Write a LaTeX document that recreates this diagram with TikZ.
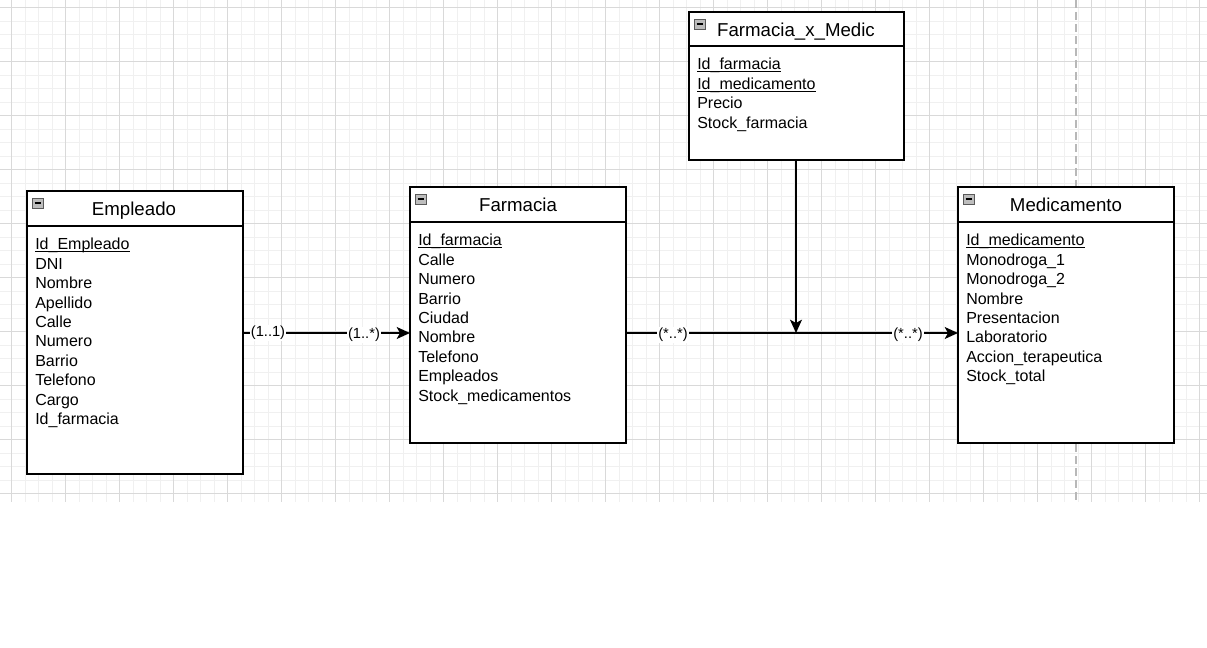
\documentclass[tikz,border=0pt]{standalone}
\usepackage{fontspec}
\setmainfont{Liberation Sans}
\usepackage{xcolor}
\usetikzlibrary{arrows.meta}
\definecolor{gridminor}{HTML}{F0F0F0}
\definecolor{gridmajor}{HTML}{D9D9D9}
\definecolor{iconfill}{HTML}{BDBDBD}
\tikzset{
    tabla/.style={draw, line width=1.1pt, fill=white, inner sep=0pt, outer sep=0pt, anchor=north west, minimum width=162pt},
    titulo/.style={anchor=base, inner sep=0pt, font=\fontsize{14pt}{16pt}\selectfont},
    campo/.style={anchor=base west, inner sep=0pt, font=\fontsize{12pt}{14pt}\selectfont},
    card/.style={fill=white, inner sep=0.8pt, font=\fontsize{11pt}{13pt}\selectfont},
    rel/.style={line width=1.1pt, -{Stealth[length=10pt, width=9pt, inset=2.5pt]}}
}
\newcommand{\icono}[1]{%
    \draw[fill=iconfill, draw=gray!70!black, line width=0.5pt] (#1) ++(5,7) rectangle ++(11,10);
    \draw[line width=1.1pt] (#1) ++(7.5,12) -- ++(6,0);}
\newcommand{\clave}[1]{\setbox0\hbox{#1}\rlap{\rule[-1.6pt]{\wd0}{0.7pt}}\box0}

\begin{document}
\begin{tikzpicture}[x=0.75pt, y=-0.75pt]
            \useasboundingbox (0,0) rectangle (1207,648);
            \begin{scope}
                \clip (0,0) rectangle (1207,502);
                \foreach \x in {-2,11.5,...,1210} \draw[gridminor, line width=0.75pt] (\x,0) -- (\x,502);
                \foreach \y in {-5.5,8,...,502} \draw[gridminor, line width=0.75pt] (0,\y) -- (1207,\y);
                \foreach \x in {11.5,65.5,...,1210} \draw[gridmajor, line width=0.75pt] (\x,0) -- (\x,502);
                \foreach \y in {8,62,...,502} \draw[gridmajor, line width=0.75pt] (0,\y) -- (1207,\y);
            \end{scope}
            \draw[gridmajor!85!black, line width=1pt, dash pattern=on 6pt off 3pt] (1076,0) -- (1076,502);

            \node[tabla, minimum height=212.25pt] (empleado) at (27,191) {};
            \node[tabla, minimum height=192pt] (farmacia) at (410,187) {};
            \node[tabla, minimum width=161.25pt, minimum height=111pt] (fxm) at (689,12) {};
            \node[tabla, minimum height=192pt] (medicamento) at (958,187) {};

            \draw[line width=1.1pt] (empleado.north west) ++(0,35) -- ++(216,0);
            \draw[line width=1.1pt] (farmacia.north west) ++(0,35) -- ++(216,0);
            \draw[line width=1.1pt] (fxm.north west) ++(0,34) -- ++(215,0);
            \draw[line width=1.1pt] (medicamento.north west) ++(0,35) -- ++(216,0);

            \icono{empleado.north west}
            \icono{farmacia.north west}
            \icono{fxm.north west}
            \icono{medicamento.north west}

            \node[titulo] (t-empleado) at (134,216) {Empleado};
            \node[titulo] (t-farmacia) at (518,212) {Farmacia};
            \node[titulo] (t-fxm) at (796,37) {Farmacia\_x\_Medic};
            \node[titulo] (t-medicamento) at (1066,212) {Medicamento};

            \foreach \c [count=\i] in {\clave{Id\_Empleado},DNI,Nombre,Apellido,Calle,Numero,Barrio,Telefono,Cargo,Id\_farmacia}
                \node[campo] (emp-\i) at (35,{250+19.4*(\i-1)}) {\c};
            \foreach \c [count=\i] in {\clave{Id\_farmacia},Calle,Numero,Barrio,Ciudad,Nombre,Telefono,Empleados,Stock\_medicamentos}
                \node[campo] (far-\i) at (418,{246+19.4*(\i-1)}) {\c};
            \foreach \c [count=\i] in {\clave{Id\_farmacia},\clave{Id\_medicamento},Precio,Stock\_farmacia}
                \node[campo] (fxm-\i) at (697,{70+19.4*(\i-1)}) {\c};
            \foreach \c [count=\i] in {\clave{Id\_medicamento},Monodroga\_1,Monodroga\_2,Nombre,Presentacion,Laboratorio,Accion\_terapeutica,Stock\_total}
                \node[campo] (med-\i) at (966,{246+19.4*(\i-1)}) {\c};

            \coordinate (cruce) at (796,333);
            \draw[rel] (empleado.east |- cruce) -- (farmacia.west |- cruce);
            \draw[rel] (farmacia.east |- cruce) -- (medicamento.west |- cruce);
            \draw[rel] (fxm.south -| cruce) -- (cruce);

            \node[card] (c1) at (268,333) {(1..1)};
            \node[card] (c2) at (364,335) {(1..*)};
            \node[card] (c3) at (673,335) {(*..*)};
            \node[card] (c4) at (908,335) {(*..*)};
\end{tikzpicture}
\end{document}
